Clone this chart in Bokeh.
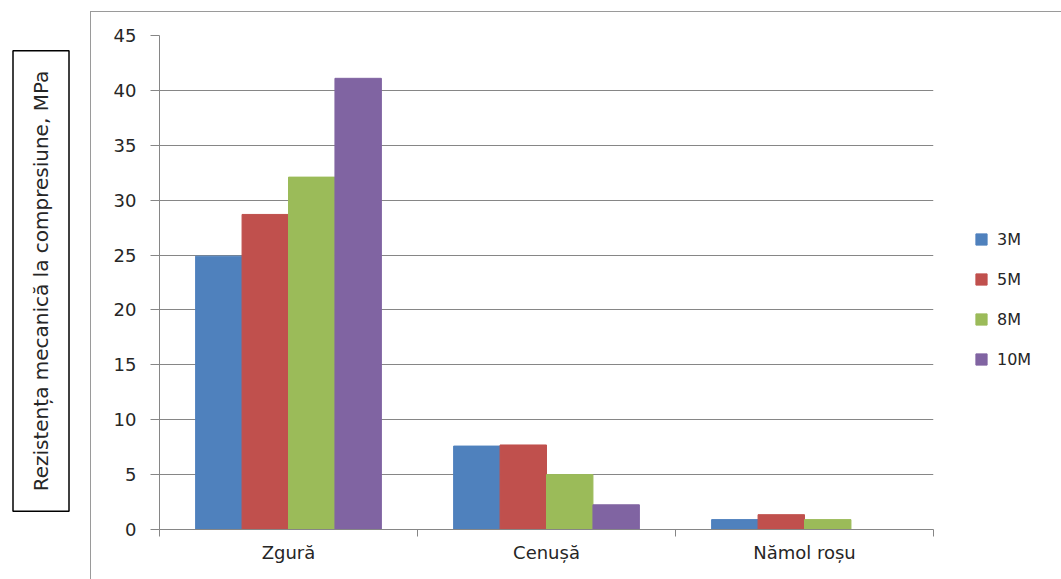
import math
from bokeh.plotting import figure
from bokeh.layouts import row, column
from bokeh.models import (Range1d, LinearAxis, FixedTicker, SingleIntervalTicker, Spacer,
                          Legend, LegendItem, Label, ColumnDataSource)
from bokeh.transform import dodge
from bokeh.embed import file_html
from bokeh.resources import INLINE

categories = ["Zgură", "Cenușă", "Nămol roșu"]
series = ["3M", "5M", "8M", "10M"]
v3M = [24.9, 7.6, 0.9]
v5M = [28.7, 7.7, 1.35]
v8M = [32.1, 5.0, 0.9]
v10M = [41.1, 2.25, 0.0]
colors = ["#4F81BD", "#C0504D", "#9BBB59", "#8064A2"]
y_label = "Rezistența mecanică la compresiune, MPa"

FONT = "DejaVu Sans"
GRAY = "#868686"
TXT = "#262626"

n = len(categories)
centers = [i + 0.5 for i in range(n)]
bounds = list(range(n + 1))
src = ColumnDataSource(dict(xc=centers, v3M=v3M, v5M=v5M, v8M=v8M, v10M=v10M))

# ---- main chart ----
p = figure(x_range=Range1d(0, n), y_range=Range1d(0, 45),
           frame_width=773, frame_height=493, output_backend="svg", toolbar_location=None,
           min_border_left=68, min_border_right=129, min_border_top=23, min_border_bottom=51,
           x_axis_location=None)
p.styles = {"border-left": "1px solid #9a9a9a", "border-top": "1px solid #9a9a9a"}

bw = 0.18
offsets = [-1.5 * bw, -0.5 * bw, 0.5 * bw, 1.5 * bw]
items = []
for name, col, off in zip(series, colors, offsets):
    r = p.vbar(x=dodge("xc", off), top="v" + name, width=bw, source=src,
               fill_color=col, line_color=col)
    items.append(LegendItem(label=name, renderers=[r]))

p.yaxis.ticker = SingleIntervalTicker(interval=5)
p.yaxis.axis_line_color = GRAY
p.yaxis.major_tick_line_color = GRAY
p.yaxis.major_tick_out = 9
p.yaxis.major_tick_in = 0
p.yaxis.minor_tick_line_color = None
p.yaxis.major_label_text_font = FONT
p.yaxis.major_label_text_font_size = "18px"
p.yaxis.major_label_text_color = TXT
p.yaxis.major_label_standoff = 14

cat_axis = LinearAxis(ticker=FixedTicker(ticks=centers, minor_ticks=bounds),
                      major_label_overrides={c: name for c, name in zip(centers, categories)},
                      axis_line_color=GRAY, major_tick_line_color=None, major_tick_out=0,
                      major_tick_in=0, minor_tick_line_color=GRAY, minor_tick_out=7,
                      minor_tick_in=0, major_label_text_font=FONT,
                      major_label_text_font_size="18px", major_label_text_color=TXT,
                      major_label_standoff=5)
p.add_layout(cat_axis, "below")

p.xgrid.grid_line_color = None
p.ygrid.grid_line_color = GRAY
p.ygrid.ticker = SingleIntervalTicker(interval=5)
p.outline_line_color = None

legend = Legend(items=items, location=(41, 160), label_text_font=FONT, label_text_font_size="16px",
                label_text_color=TXT, glyph_width=14, glyph_height=14, label_height=20,
                spacing=20, padding=5, margin=0, border_line_color=None,
                background_fill_alpha=0, label_standoff=9)
p.add_layout(legend, "right")

# ---- y-axis title box ----
lab = figure(width=90, height=579, x_range=Range1d(0, 90), y_range=Range1d(579, 0),
             output_backend="svg", toolbar_location=None, min_border=0,
             x_axis_location=None, y_axis_location=None)
lab.grid.grid_line_color = None
lab.outline_line_color = None
lab.add_layout(Label(x=40.5, y=280.5, text=y_label, angle=math.pi / 2,
                     text_align="center", text_baseline="middle", text_font=FONT,
                     text_font_size="20px", text_color=TXT, border_line_color="black",
                     border_line_width=1.5,
                     padding=dict(left=20, right=20, top=16, bottom=16)))

layout = row(lab, column(Spacer(height=11), p, spacing=0), spacing=0)

open("out.html", "w").write(file_html(layout, INLINE))
